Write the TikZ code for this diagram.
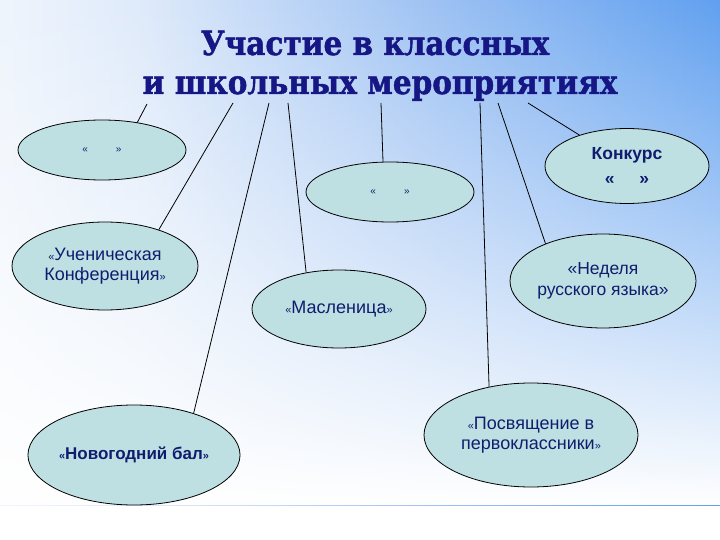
\documentclass[tikz,border=0pt]{standalone}
\usepackage{fontspec}
\setmainfont{Liberation Sans}
\newfontfamily\titlefont[BoldFeatures={FakeBold=1.5}]{DejaVu Serif}
\usetikzlibrary{shapes.geometric,fadings}
\definecolor{bgc1}{RGB}{222,234,250}
\definecolor{bgc2}{RGB}{158,194,243}
\definecolor{bgc3}{RGB}{96,160,240}
\definecolor{bgc4}{RGB}{64,146,240}
\definecolor{efill}{RGB}{190,224,226}
\definecolor{navy}{RGB}{16,28,110}
\definecolor{titleblue}{RGB}{22,22,132}
\pgfdeclarehorizontalshading{bgh}{100bp}{color(0bp)=(white); color(15bp)=(white); color(35bp)=(bgc1); color(55bp)=(bgc2); color(75bp)=(bgc3); color(100bp)=(bgc4)}
\tikzfading[name=fadeup, top color=transparent!100, middle color=transparent!75, bottom color=transparent!0]
\newcommand{\lqs}{{\fontsize{11}{11}\selectfont «}}
\newcommand{\rqs}{{\fontsize{11}{11}\selectfont »}}
\begin{document}
\begin{tikzpicture}[x=1pt,y=-1pt,
  ev/.style={ellipse, draw=black, line width=0.8pt, fill=efill, inner sep=0pt,
    text=navy, font=\fontsize{18}{20}\selectfont, align=center},
  conn/.style={draw=black, line width=0.8pt},
  ttl/.style={text=titleblue, anchor=base, inner sep=0pt}]
\useasboundingbox (0,0) rectangle (720,540);
\fill[white] (0,0) rectangle (720,540);
\shade[shading=bgh] (0,0) rectangle (720,505);
\fill[white, path fading=fadeup] (0,0) rectangle (720,505);

% title
\node[ttl] (title1) at (375,55) {\scalebox{1}[1.13]{\titlefont\bfseries\fontsize{29.5}{34}\selectfont Участие в классных}};
\node[ttl] (title2) at (380,94) {\scalebox{1}[1.13]{\titlefont\bfseries\fontsize{29.5}{34}\selectfont и школьных мероприятиях}};

% ellipses
\node[ev, minimum width=168pt, minimum height=60pt] (e1) at (102,150) {\fontsize{10}{12}\selectfont «\hspace{28pt}»};
\node[ev, minimum width=168pt, minimum height=60pt] (e2) at (390,192) {\fontsize{10}{12}\selectfont «\hspace{28pt}»};
\node[ev, minimum width=164pt, minimum height=75pt, font=\bfseries\fontsize{17.5}{20}\selectfont] (e3) at (627,166) {Конкурс\\[5pt]«\hspace{25pt}»};
\node[ev, minimum width=186pt, minimum height=88pt] (e4) at (105,266) {\lqs Ученическая\\Конференция\rqs};
\node[ev, minimum width=174pt, minimum height=78pt] (e5) at (339,309) {\lqs Масленица\rqs};
\node[ev, minimum width=186pt, minimum height=94pt, font=\fontsize{17.5}{20}\selectfont] (e6) at (603,281) {«Неделя\\[1pt]русского языка»};
\node[ev, minimum width=208pt, minimum height=100pt, font=\bfseries\fontsize{17}{20}\selectfont] (e7) at (134,455) {\lqs Новогодний бал\rqs};
\node[ev, minimum width=214pt, minimum height=104pt] (e8) at (531,435) {\lqs Посвящение в\\первоклассники\rqs};

% connector start points under the title
\coordinate (tA) at (147,104);
\coordinate (tB) at (233,103);
\coordinate (tC) at (269,103);
\coordinate (tD) at (288,103);
\coordinate (tE) at (381,103);
\coordinate (tF) at (480,103);
\coordinate (tG) at (498,103);
\coordinate (tH) at (528,103);

\draw[conn] (tA) -- (e1.38);
\draw[conn] (tB) -- (e4.34);
\draw[conn] (tC) -- (e7.35);
\draw[conn] (tD) -- (e5.132);
\draw[conn] (tE) -- (e2.103);
\draw[conn] (tF) -- (e8.131);
\draw[conn] (tG) -- (e6.147);
\draw[conn] (tH) -- (e3.147);
\end{tikzpicture}
\end{document}
